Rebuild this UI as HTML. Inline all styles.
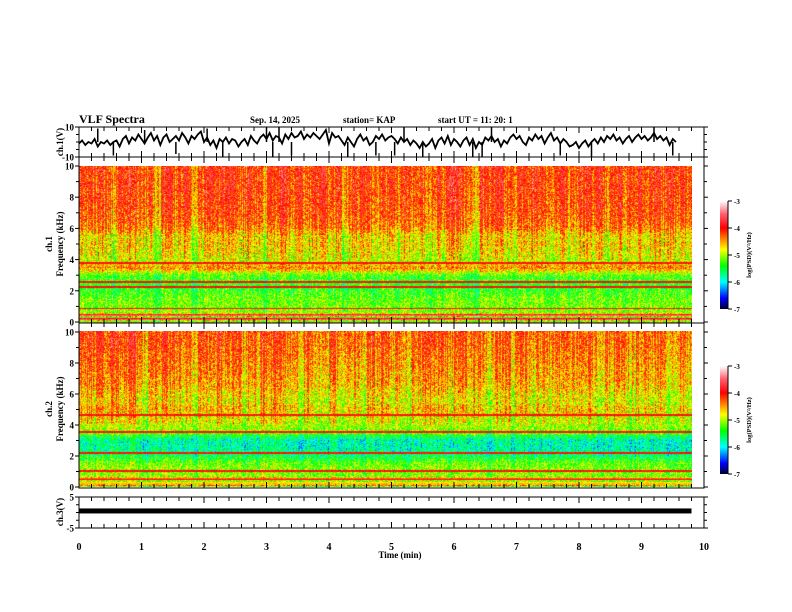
<!DOCTYPE html>
<html><head><meta charset="utf-8"><style>
body{margin:0;background:#fff;}
#wrap{position:relative;width:792px;height:612px;overflow:hidden;font-family:"Liberation Serif",serif;}
canvas{position:absolute;}
svg{position:absolute;left:0;top:0;}
text{font-family:"Liberation Serif",serif;font-weight:bold;fill:#000;}
</style></head><body>
<div id="wrap">
<canvas id="sp1" width="613" height="157" style="left:79px;top:166px"></canvas>
<canvas id="sp2" width="613" height="156" style="left:79px;top:331px"></canvas>
<svg id="svg" width="792" height="612" xmlns="http://www.w3.org/2000/svg">
<defs><linearGradient id="cg" x1="0" y1="1" x2="0" y2="0">
<stop offset="0" stop-color="#000030"/><stop offset="0.1" stop-color="#0000ff"/><stop offset="0.25" stop-color="#00ffff"/><stop offset="0.4" stop-color="#00ff00"/><stop offset="0.55" stop-color="#ffff00"/><stop offset="0.65" stop-color="#ff8000"/><stop offset="0.75" stop-color="#ff0000"/><stop offset="0.88" stop-color="#ff6070"/><stop offset="1" stop-color="#ffffff"/></linearGradient></defs>
<text x="79" y="123" font-size="12">VLF Spectra</text>
<text x="250" y="123" font-size="9">Sep. 14, 2025</text>
<text x="343" y="123" font-size="9">station= KAP</text>
<text x="438" y="123" font-size="9">start  UT =   11: 20: 1</text>
</svg>
</div>
<script>
// ch1 waveform (V), every 0.05 min from 0 to 9.8
const ch1Wave=[-1,1,-2,0,-1,2,-3,0,-1,1,-2,0,1,-3,2,4,-1,3,1,5,2,-1,3,6,1,4,-2,3,5,0,2,4,1,6,3,-1,4,2,5,7,0,3,-2,1,-4,2,0,3,-1,2,1,-3,0,2,-2,4,1,-1,3,5,2,6,1,4,3,-1,5,2,6,3,4,7,2,5,3,6,4,2,5,8,-1,6,3,4,1,-2,3,0,-3,2,5,1,3,-2,0,4,2,5,1,3,4,2,-1,3,0,2,-2,1,-1,-4,0,-3,-1,2,-4,1,3,-1,4,-2,2,0,-3,1,3,-2,2,-4,0,-2,3,1,4,0,2,-3,1,-1,3,5,2,4,0,-2,3,1,5,2,4,-1,3,6,1,3,-1,2,0,-3,-2,0,-4,-1,1,-3,0,2,-1,3,0,4,2,5,1,3,-1,2,4,0,3,5,2,4,1,3,6,2,4,1,3,-2,2,0];
// spikes: [time(min), value(V)]
const ch1Spikes=[[0.3,9],[0.55,-9],[1.05,8],[1.55,-8],[2.05,9],[2.3,-10],[3.0,10],[3.1,-10],[3.2,10],[3.4,-9],[4.3,-10],[4.75,-9],[5.05,-9],[5.2,10],[5.5,-10],[6.3,-10],[6.45,-10],[6.6,10],[7.7,-9],[8.2,-10],[9.2,10],[9.5,-9]];
// ch3 waveform level (V)
const ch3Level=0.5;
// column activity per 0.1 min (positive = more intense/red)
const colAct1=[0.2,0.3,0.1,0.4,0.2,-0.1,0.3,0.2,0.4,0.3,0.1,0.2,-0.2,0.3,0.4,0.2,0.3,0.1,-0.1,0.2,0.3,0.4,0.2,0.3,0.3,0.1,0.2,0.4,0.3,-0.1,0.2,0.3,0.4,0.2,0.1,0.3,0.2,0.4,0.3,0.2,0.1,0.3,-0.2,0.2,0.3,0.4,0.2,0.1,0.3,0.2,0.3,0.1,0.4,0.2,0.3,0.2,0.1,0.3,0.2,0.4,0.3,0.2,0.1,-0.1,0.3,0.2,0.4,0.3,0.2,0.1,0.3,0.2,0.4,0.3,0.1,0.2,0.3,0.2,-0.1,0.2,0.3,0.4,0.2,0.3,0.1,0.2,0.3,0.2,0.4,0.3,0.1,0.2,0.3,0.2,0.4,0.3,0.2,0.1];
const colAct2=[0.3,0.4,0.2,0.3,0.1,0.4,0.3,0.2,0.4,0.1,-0.2,0.2,0.3,0.4,0.2,0.3,0.1,0.3,-0.1,0.2,0.1,0.3,0.4,0.2,0.3,0.2,0.1,0.3,0.2,0.4,0.3,0.4,0.2,0.1,0.2,0.0,0.3,0.2,0.1,-0.2,0.2,0.1,0.0,0.2,0.1,-0.1,0.2,0.1,0.3,0.2,0.0,0.1,-0.2,0.2,0.1,0.3,0.4,0.2,0.3,0.1,0.2,0.3,0.1,0.2,0.0,-0.1,0.2,0.1,0.3,0.0,0.1,0.2,-0.1,0.1,0.2,0.0,0.1,0.2,0.1,0.0,0.1,0.2,0.0,-0.2,0.1,0.2,0.0,0.1,-0.1,0.1,0.2,0.0,0.1,0.2,0.0,0.1,0.2,0.0];
// frequency profile (log PSD) at 10,9.5,...,0 kHz
const rows1=[-4.35,-4.35,-4.35,-4.35,-4.4,-4.4,-4.45,-4.5,-4.65,-4.95,-4.9,-5.0,-5.1,-4.5,-5.4,-5.5,-5.45,-5.3,-5.25,-5.2,-5.0];
const rows2=[-4.4,-4.4,-4.45,-4.5,-4.55,-4.6,-4.65,-4.7,-4.85,-4.95,-4.75,-4.95,-5.05,-5.2,-5.9,-5.9,-5.7,-5.25,-5.15,-5.2,-5.0];
// narrowband lines (kHz)
const lines1=[3.8,2.6,2.25,0.9,0.5,0.2];
const lines2=[4.6,3.5,2.15,1.0,0.5,0.2];

const X0=79,XS=62.5;
const xs=t=>X0+t*XS;
const stops=[[-7,[0,0,48]],[-6.6,[0,0,255]],[-6,[0,255,255]],[-5.4,[0,255,0]],[-4.8,[255,255,0]],[-4.4,[255,128,0]],[-4,[255,0,0]],[-3.5,[255,96,112]],[-3,[255,255,255]]];
function cmap(v){if(v<=-7)return stops[0][1];if(v>=-3)return stops[8][1];
 for(let i=0;i<8;i++){const a=stops[i],b=stops[i+1];if(v<=b[0]){const f=(v-a[0])/(b[0]-a[0]);return a[1].map((c,k)=>c+(b[1][k]-c)*f);}}}
function hash(a,b){let h=(a*374761393+b*668265263)^0x5bd1e995;h=(h^(h>>>13))*1274126177;h=h^(h>>>16);return ((h>>>0)%10000)/10000;}
function drawSpec(id,rows,act,lines,seed){
 const c=document.getElementById(id),ctx=c.getContext('2d'),W=c.width,H=c.height;
 const img=ctx.createImageData(W,H);
 for(let x=0;x<W;x++){
  const t=x/XS; const ai=Math.min(act.length-1,Math.floor(t*10));
  const cj=(hash(x,seed)-0.5)*0.7+act[ai];
  for(let y=0;y<H;y++){
   const f=10*(1-y/(H-1)); const r=(10-f)*2; const ri=Math.min(19,Math.floor(r)); const fr=r-ri;
   let v=rows[ri]*(1-fr)+rows[ri+1]*fr;
   const w=f>4?1:0.5;
   v+=cj*w+(hash(x*7+seed,y*13)-0.5)*0.9;
   for(const L of lines){if(Math.abs(f-L)<0.06)v=-4.0+(hash(x,y)-0.5)*0.3;}
   if(f<0.6)v+= (hash(y,seed)-0.5)*1.5;
   const col=cmap(v);const p=(y*W+x)*4;img.data[p]=col[0];img.data[p+1]=col[1];img.data[p+2]=col[2];img.data[p+3]=255;
  }
 }
 ctx.putImageData(img,0,0);
}
drawSpec('sp1',rows1,colAct1,lines1,11);
drawSpec('sp2',rows2,colAct2,lines2,29);

const svg=document.getElementById('svg');const NS='http://www.w3.org/2000/svg';
function el(tag,attrs,txt){const e=document.createElementNS(NS,tag);for(const k in attrs)e.setAttribute(k,attrs[k]);if(txt!==undefined)e.textContent=txt;svg.appendChild(e);return e;}
const panels=[{top:127,bot:157,name:'ch1-panel'},{top:157,bot:323,name:'ch1-spectrogram-panel'},{top:323,bot:488,name:'ch2-spectrogram-panel'},{top:497,bot:528,name:'ch3-panel'}];
for(const p of panels){
 const r=el('rect',{x:X0,y:p.top,width:625,height:p.bot-p.top,fill:'none',stroke:'#000','stroke-width':1});
 
 
 for(let i=0;i<=50;i++){const x=xs(i*0.2);const L=i%5===0?6:4;
  el('line',{x1:x,y1:p.top,x2:x,y2:p.top+L,stroke:'#000'});
  el('line',{x1:x,y1:p.bot,x2:x,y2:p.bot-L,stroke:'#000'});}
}
function yticks(vals,ys,minor){for(let i=0;i<vals.length;i++){const y=ys(vals[i]);
 el('line',{x1:X0-4,y1:y,x2:X0,y2:y,stroke:'#000'});el('line',{x1:704,y1:y,x2:708,y2:y,stroke:'#000'});
 const t=el('text',{x:X0-5,y:y+3.5,'font-size':9,'text-anchor':'end'},String(vals[i]));
 
 }
 for(const m of minor){const y=ys(m);el('line',{x1:X0-3,y1:y,x2:X0,y2:y,stroke:'#000'});el('line',{x1:704,y1:y,x2:707,y2:y,stroke:'#000'});}}
const y1=v=>142-v*1.5;
yticks([10,-10],y1,[-5,0,5]);
const yf1=f=>322-f*15.6, yf2=f=>487-f*15.5;
yticks([0,2,4,6,8,10],yf1,[1,3,5,7,9]);
yticks([0,2,4,6,8,10],yf2,[1,3,5,7,9]);
const y3=v=>512.5-v*3.1;
yticks([5,-5],y3,[-2.5,0,2.5]);
// ch1 waveform
let d='';ch1Wave.forEach((v,i)=>{d+=(i?'L':'M')+xs(i*0.05).toFixed(1)+' '+y1(Math.max(-10,Math.min(10,v))).toFixed(1);});
const w1=el('path',{d:d,fill:'none',stroke:'#000','stroke-width':1.8});


ch1Spikes.forEach(s=>{
 const ln=el('line',{x1:xs(s[0]),y1:y1(0),x2:xs(s[0]),y2:y1(s[1]),stroke:'#000','stroke-width':1.5});
 
 
});
const w3=el('rect',{x:X0,y:y3(ch3Level)-2.5,width:xs(9.8)-X0,height:5,fill:'#000'});


for(let i=0;i<=10;i++){const t=el('text',{x:xs(i),y:550,'font-size':10,'text-anchor':'middle'},String(i));
 
 }
const xt=el('text',{x:400,y:558,'font-size':9,'text-anchor':'middle'},'Time (min)');


function vt(x,y,s,name){const t=el('text',{x:x,y:y,'font-size':9,'text-anchor':'middle',transform:'rotate(-90 '+x+' '+y+')'},s);
 
 }
vt(63,142,'ch.1(V)','ch1-y-title');vt(52,244,'ch.1','ch1-spec-y-title');vt(63,244,'Frequency (kHz)','ch1-freq-y-title');
vt(52,409,'ch.2','ch2-spec-y-title');vt(63,409,'Frequency (kHz)','ch2-freq-y-title');vt(63,512,'ch.3(V)','ch3-y-title');
for(const cb of [{top:201,n:'colorbar-ch1'},{top:366,n:'colorbar-ch2'}]){
 const r=el('rect',{x:720,y:cb.top,width:8,height:108,fill:'url(#cg)'});
 
 
 el('line',{x1:728,y1:cb.top,x2:728,y2:cb.top+108,stroke:'#000'});
 for(let k=0;k<=4;k++){const y=cb.top+k*27;el('line',{x1:728,y1:y,x2:732,y2:y,stroke:'#000'});
  const t=el('text',{x:734,y:y+3,'font-size':7},String(-3-k));
  
  }
 const x=751,y=cb.top+54;const t=el('text',{x:x,y:y,'font-size':6.5,'text-anchor':'middle',transform:'rotate(-90 '+x+' '+y+')'},'log(PSD)(V\u00b2/Hz)');
 
 
}
</script>
</body></html>
